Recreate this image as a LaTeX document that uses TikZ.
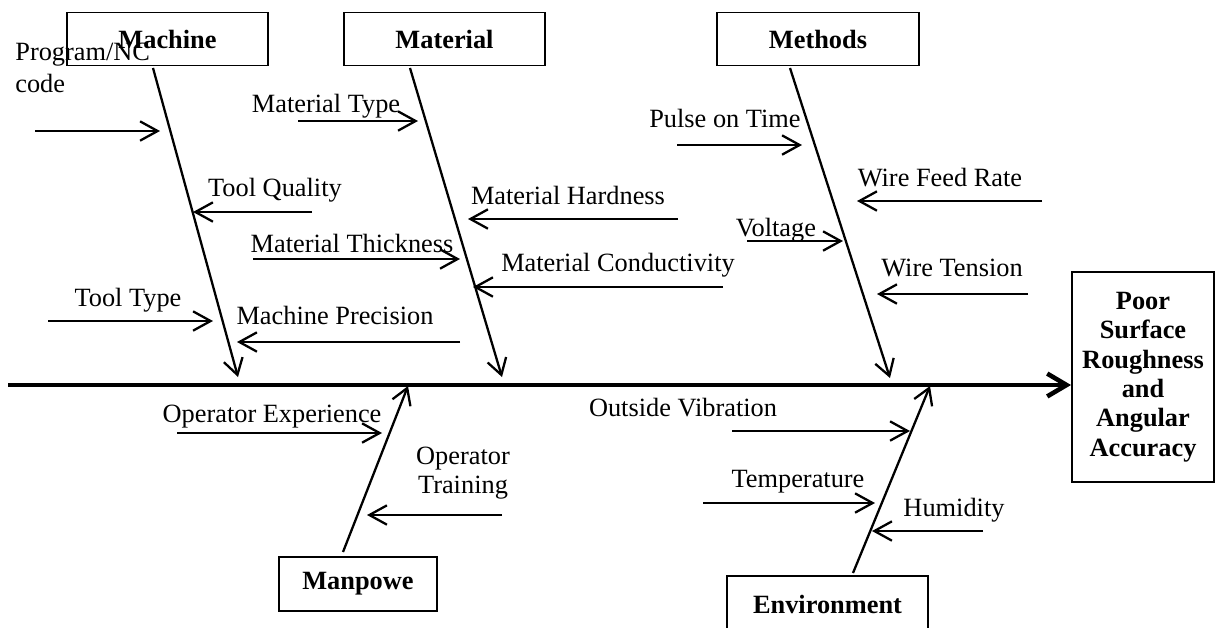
\documentclass[tikz,border=0pt]{standalone}
\usepackage{fontspec}
\setmainfont{Liberation Serif}
\usetikzlibrary{arrows.meta, positioning}

\begin{document}
\begin{tikzpicture}[
  x=0.02cm, y=-0.02cm,
  cat/.style={rectangle, draw, line width=1pt, minimum width=4.03cm, minimum height=1.06cm,
              inner sep=0pt, font=\fontsize{15}{18}\selectfont\bfseries},
  effect/.style={rectangle, draw, line width=1.1pt, minimum width=2.84cm, minimum height=4.2cm,
                 align=center, inner sep=0pt, font=\fontsize{15}{16.7}\selectfont\bfseries},
  lbl/.style={inner sep=0pt, anchor=base, font=\fontsize{15}{18}\selectfont},
  bone/.style={-{Straight Barb[length=9pt,width=11pt]}, line width=1.3pt},
  sub/.style={-{Straight Barb[length=10pt,width=11pt]}, line width=1.3pt},
  spine/.style={-{Straight Barb[length=11pt,width=13pt]}, line width=2.6pt}
]
  \useasboundingbox (0,0) rectangle (1215,627);
  \clip (0,0) rectangle (1215,627);

  \node[cat] (machine) at (167.5,39) {Machine};
  \node[cat] (material) at (444.5,39) {Material};
  \node[cat] (methods) at (818,39) {Methods};
  \node[cat, minimum width=3.16cm, minimum height=1.08cm] (manpower) at (358,584) {Manpowe};
  \node[cat, minimum height=1.12cm] (environment) at (827.5,604) {Environment};
  \node[effect] (effect) at (1143,377) {Poor\\Surface\\Roughness\\and\\Angular\\Accuracy};

  \coordinate (spstart) at (8,385);
  \draw[spine] (spstart) -- (spstart -| effect.west);

  \coordinate (machtop) at (153,68);
  \coordinate (machtip) at (238,377);
  \coordinate (mattop) at (410,68);
  \coordinate (mattip) at (502,377);
  \coordinate (methtop) at (790,68);
  \coordinate (methtip) at (890,378);
  \coordinate (mantop) at (343,552);
  \coordinate (mantip) at (408,386);
  \coordinate (envtop) at (853,573);
  \coordinate (envtip) at (930,386);
  \draw[bone] (machtop) -- (machtip);
  \draw[bone] (mattop) -- (mattip);
  \draw[bone] (methtop) -- (methtip);
  \draw[bone] (mantop) -- (mantip);
  \draw[bone] (envtop) -- (envtip);

  \node[lbl, anchor=north west, align=left] (lprog) at (15,43) {Program/NC\\code};
  \node[lbl] (ltq) at (275,196) {Tool Quality};
  \node[lbl] (lthick) at (352,252) {Material Thickness};
  \node[lbl] (ltype) at (128,306) {Tool Type};
  \node[lbl] (lprec) at (335,324) {Machine Precision};
  \node[lbl] (lmtype) at (326,112) {Material Type};
  \node[lbl] (lhard) at (568,204) {Material Hardness};
  \node[lbl] (lcond) at (618,271) {Material Conductivity};
  \node[lbl] (lpulse) at (725,127) {Pulse on Time};
  \node[lbl] (lfeed) at (940,186) {Wire Feed Rate};
  \node[lbl] (lvolt) at (776,236) {Voltage};
  \node[lbl] (ltens) at (952,276) {Wire Tension};
  \node[lbl] (lexp) at (272,422) {Operator Experience};
  \node[lbl, anchor=north, align=center, font=\fontsize{15}{16.5}\selectfont] (ltrain) at (463,447) {Operator\\Training};
  \node[lbl] (lvib) at (683,416) {Outside Vibration};
  \node[lbl] (ltemp) at (798,487) {Temperature};
  \node[lbl] (lhum) at (954,516) {Humidity};

  \coordinate (prog1) at (35,131);   \coordinate (prog2) at (160,131);
  \coordinate (tq1) at (312,212);    \coordinate (tq2) at (193,212);
  \coordinate (thick1) at (253,259); \coordinate (thick2) at (460,259);
  \coordinate (type1) at (48,321);   \coordinate (type2) at (213,321);
  \coordinate (prec1) at (460,342);  \coordinate (prec2) at (237,342);
  \coordinate (mtype1) at (298,121); \coordinate (mtype2) at (418,121);
  \coordinate (hard1) at (678,219);  \coordinate (hard2) at (468,219);
  \coordinate (cond1) at (723,287);  \coordinate (cond2) at (473,287);
  \coordinate (pulse1) at (677,145); \coordinate (pulse2) at (802,145);
  \coordinate (feed1) at (1042,201); \coordinate (feed2) at (857,201);
  \coordinate (volt1) at (747,241);  \coordinate (volt2) at (843,241);
  \coordinate (tens1) at (1028,294); \coordinate (tens2) at (877,294);
  \coordinate (exp1) at (177,433);   \coordinate (exp2) at (382,433);
  \coordinate (train1) at (502,515); \coordinate (train2) at (367,515);
  \coordinate (vib1) at (732,431);   \coordinate (vib2) at (910,431);
  \coordinate (temp1) at (703,503);  \coordinate (temp2) at (875,503);
  \coordinate (hum1) at (983,531);   \coordinate (hum2) at (872,531);

  \draw[sub] (prog1) -- (prog2);
  \draw[sub] (tq1) -- (tq2);
  \draw[sub] (thick1) -- (thick2);
  \draw[sub] (type1) -- (type2);
  \draw[sub] (prec1) -- (prec2);
  \draw[sub] (mtype1) -- (mtype2);
  \draw[sub] (hard1) -- (hard2);
  \draw[sub] (cond1) -- (cond2);
  \draw[sub] (pulse1) -- (pulse2);
  \draw[sub] (feed1) -- (feed2);
  \draw[sub] (volt1) -- (volt2);
  \draw[sub] (tens1) -- (tens2);
  \draw[sub] (exp1) -- (exp2);
  \draw[sub] (train1) -- (train2);
  \draw[sub] (vib1) -- (vib2);
  \draw[sub] (temp1) -- (temp2);
  \draw[sub] (hum1) -- (hum2);
\end{tikzpicture}
\end{document}
